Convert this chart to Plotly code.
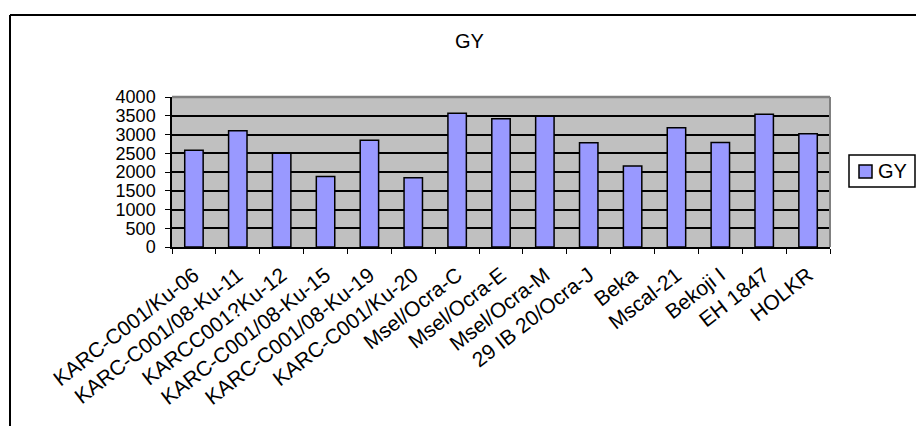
import plotly.graph_objects as go

# Grain yield (GY) by variety
varieties = [
    "KARC-C001/Ku-06", "KARC-C001/08-Ku-11", "KARCC001?Ku-12", "KARC-C001/08-Ku-15",
    "KARC-C001/08-Ku-19", "KARC-C001/Ku-20", "Msel/Ocra-C", "Msel/Ocra-E",
    "Msel/Ocra-M", "29 IB 20/Ocra-J", "Beka", "Mscal-21", "Bekoji I", "EH 1847", "HOLKR",
]
gy = [2580, 3100, 2500, 1880, 2850, 1850, 3570, 3420, 3490, 2780, 2160, 3180, 2790, 3540, 3020]
y_ticks = [0, 500, 1000, 1500, 2000, 2500, 3000, 3500, 4000]
series_name = "GY"
bar_color = "#9999FF"

W, H = 916, 426
L, R, T, B = 172, 830, 97, 247  # plot area in pixels


def px_x(p):
    return (p - L) / (R - L)


def px_y(p):
    return (B - p) / (B - T)


fig = go.Figure(
    go.Bar(
        x=varieties,
        y=gy,
        name=series_name,
        marker=dict(color=bar_color, line=dict(color="black", width=1.5)),
    )
)

font = "Liberation Sans, Arial, sans-serif"

fig.update_layout(
    width=W,
    height=H,
    margin=dict(l=L, r=W - R, t=T, b=H - B, pad=0),
    paper_bgcolor="white",
    plot_bgcolor="#C0C0C0",
    bargap=0.58,
    font=dict(family=font, color="black", size=18),
    showlegend=False,
    annotations=[
        # chart title
        dict(text=series_name, x=px_x(469), y=px_y(41), xref="paper", yref="paper",
             showarrow=False, font=dict(size=20), xanchor="center", yanchor="middle"),
        # legend label
        dict(text=series_name, x=px_x(876), y=px_y(171), xref="paper", yref="paper",
             showarrow=False, font=dict(size=20), xanchor="left", yanchor="middle"),
    ],
    shapes=[
        # plot area frame (top and right edges in grey)
        dict(type="line", xref="paper", yref="paper", x0=0, x1=1, y0=1, y1=1,
             line=dict(color="#808080", width=2.5)),
        dict(type="line", xref="paper", yref="paper", x0=1, x1=1, y0=0, y1=1,
             line=dict(color="#808080", width=2)),
        # chart border
        dict(type="line", xref="paper", yref="paper", x0=px_x(10), x1=px_x(918),
             y0=px_y(15), y1=px_y(15), line=dict(color="black", width=2)),
        dict(type="line", xref="paper", yref="paper", x0=px_x(10), x1=px_x(10),
             y0=px_y(15), y1=px_y(430), line=dict(color="black", width=2)),
        # legend box and swatch
        dict(type="rect", xref="paper", yref="paper", x0=px_x(849), x1=px_x(915),
             y0=px_y(155), y1=px_y(187), line=dict(color="black", width=1.5),
             fillcolor="white"),
        dict(type="rect", xref="paper", yref="paper", x0=px_x(859), x1=px_x(872),
             y0=px_y(165), y1=px_y(178), line=dict(color="black", width=1.5),
             fillcolor=bar_color),
    ],
)

fig.update_xaxes(
    tickangle=-38,
    ticks="outside",
    tickson="boundaries",
    ticklen=5,
    tickcolor="black",
    ticklabelstandoff=6,
    showline=True,
    linecolor="black",
    linewidth=1.5,
    showgrid=False,
    tickfont=dict(size=21),
)

fig.update_yaxes(
    range=[0, 4000],
    tickvals=y_ticks,
    ticks="outside",
    ticklen=5,
    tickcolor="black",
    ticklabelstandoff=6,
    showline=True,
    linecolor="black",
    linewidth=1.5,
    showgrid=True,
    gridcolor="black",
    gridwidth=1.5,
    zeroline=False,
    tickfont=dict(size=18),
)

fig.write_html("out.html")
